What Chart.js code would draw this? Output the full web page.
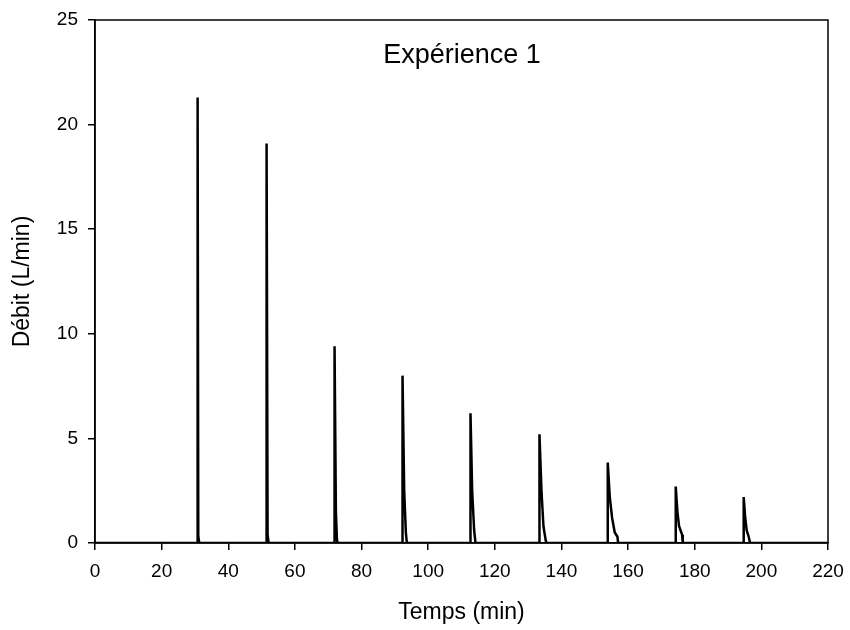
<!DOCTYPE html>
<html>
<head>
<meta charset="utf-8">
<script src="https://cdn.jsdelivr.net/npm/chart.js@4"></script>
<style>
  html, body { margin: 0; padding: 0; background: #fff; }
  #wrap { width: 850px; height: 630px; }
</style>
</head>
<body>
<div id="wrap"><canvas id="c" width="850" height="630"></canvas></div>
<script>
// Temps (min) and Débit (L/min)
const temps = [
  0, 30.7, 30.8, 31.0, 31.3,
  51.4, 51.5, 51.8, 52.1,
  71.8, 71.9, 72.3, 72.6, 72.8,
  92.2, 92.3, 92.8, 93.3, 93.6,
  112.6, 112.7, 113.2, 113.8, 114.2,
  133.3, 133.4, 134.0, 134.6, 135.3, 135.6,
  153.8, 153.9, 154.5, 155.2, 156.0, 156.8, 157.0,
  174.2, 174.3, 174.8, 175.3, 176.2, 176.4,
  194.6, 194.7, 195.1, 195.6, 196.2, 196.6,
  220
];
const debit = [
  0, 0, 21.3, 0.3, 0,
  0, 19.1, 0.4, 0,
  0, 9.4, 1.5, 0.2, 0,
  0, 8.0, 2.5, 0.5, 0,
  0, 6.2, 2.5, 0.6, 0,
  0, 5.2, 2.5, 0.8, 0.1, 0,
  0, 3.85, 2.2, 1.2, 0.5, 0.3, 0,
  0, 2.7, 1.5, 0.8, 0.4, 0,
  0, 2.2, 1.3, 0.6, 0.3, 0,
  0
];
const xTicks = [0, 20, 40, 60, 80, 100, 120, 140, 160, 180, 200, 220];
const yTicks = [0, 5, 10, 15, 20, 25];

const FONT = "'Liberation Sans', Arial, sans-serif";

// box round the plot + title inside it
const frame = {
  id: 'frame',
  afterDraw(chart) {
    const { ctx, chartArea: a } = chart;
    ctx.save();
    ctx.strokeStyle = '#000';
    ctx.lineWidth = 1.5;
    ctx.strokeRect(a.left, a.top, a.right - a.left, a.bottom - a.top);
    ctx.fillStyle = '#000';
    ctx.font = '27px ' + FONT;
    ctx.textAlign = 'center';
    ctx.textBaseline = 'alphabetic';
    ctx.fillText('Expérience 1', a.left + 367, a.top + 43);
    ctx.restore();
  }
};

new Chart(document.getElementById('c'), {
  type: 'line',
  data: {
    datasets: [{
      data: temps.map((t, i) => ({ x: t, y: debit[i] })),
      borderColor: '#000',
      borderWidth: 2.5,
      pointRadius: 0,
      tension: 0,
      fill: false
    }]
  },
  options: {
    responsive: false,
    animation: false,
    layout: { padding: { top: 20, right: 22, left: 0, bottom: 0 } },
    plugins: { legend: { display: false }, tooltip: { enabled: false } },
    scales: {
      x: {
        type: 'linear',
        min: 0, max: 220,
        afterBuildTicks: s => { s.ticks = xTicks.map(v => ({ value: v })); },
        afterFit: s => { s.height = 87; s.paddingLeft = 0; s.paddingRight = 0; },
        grid: { drawOnChartArea: false, drawTicks: true, tickLength: 7, color: '#000', lineWidth: 1.5 },
        border: { color: '#000', width: 1.5 },
        ticks: { color: '#000', font: { family: FONT, size: 19 }, padding: 10, maxRotation: 0 },
        title: { display: true, text: 'Temps (min)', color: '#000', font: { family: FONT, size: 23 }, padding: { top: 0 } }
      },
      y: {
        min: 0, max: 25,
        afterBuildTicks: s => { s.ticks = yTicks.map(v => ({ value: v })); },
        afterFit: s => { s.width = 95; s.paddingTop = 0; s.paddingBottom = 0; },
        grid: { drawOnChartArea: false, drawTicks: true, tickLength: 7, color: '#000', lineWidth: 1.5 },
        border: { color: '#000', width: 1.5 },
        ticks: { color: '#000', font: { family: FONT, size: 19 }, padding: 10 },
        title: { display: true, text: 'Débit (L/min)', color: '#000', font: { family: FONT, size: 23 }, padding: { top: 9 } }
      }
    }
  },
  plugins: [frame]
});
</script>
</body>
</html>
